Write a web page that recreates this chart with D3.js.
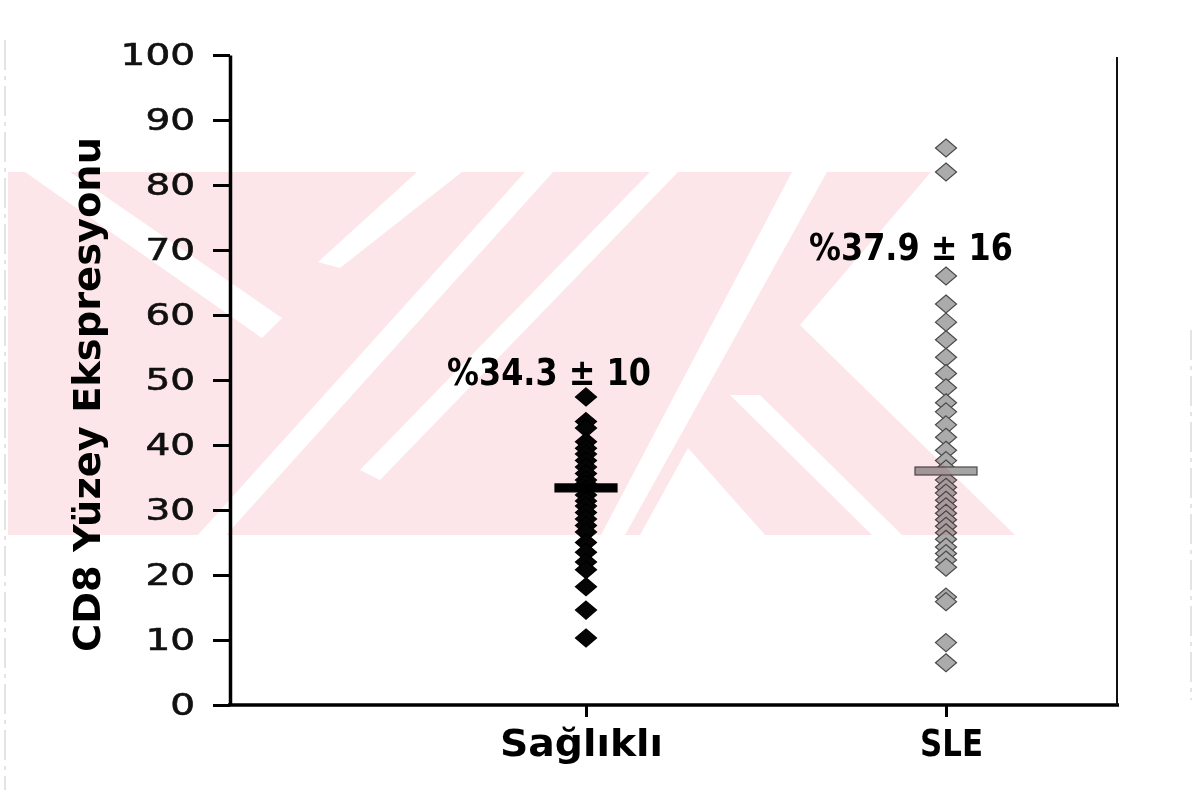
<!DOCTYPE html>
<html>
<head>
<meta charset="utf-8">
<script src="https://cdn.jsdelivr.net/npm/d3@7"></script>
<style>
  html, body { margin: 0; padding: 0; background: #fff; }
  svg { display: block; }
</style>
</head>
<body>
<script>
// CD8 surface expression (%) per group
const categories = ["Sağlıklı", "SLE"];

const healthyValues = [
  47.4, 43.6, 42.6, 40.5, 39.5, 38.6, 37.6, 36.6, 35.6, 34.6, 34.0, 33.2,
  32.3, 31.4, 30.6, 29.6, 28.6, 27.6, 26.6, 25.0, 23.5, 22.0, 20.8, 18.2,
  14.6, 10.3
];

const sleValues = [
  85.7, 82.0, 66.0, 61.7, 58.9, 56.2, 53.5, 51.0, 48.8, 46.5, 45.1, 43.1,
  41.2, 39.2, 37.6, 36.3, 34.6, 33.5, 32.6, 31.5, 30.5, 29.5, 28.5, 27.5,
  26.5, 25.5, 24.3, 23.3, 22.3, 21.2, 16.6, 15.9, 9.6, 6.5
];

// horizontal centre marks drawn across each column
const centerMarks = [33.4, 36.0];

// mean ± SD summaries
const summaryLabels = ["%34.3 ± 10", "%37.9 ± 16"];

const yTicks = [0, 10, 20, 30, 40, 50, 60, 70, 80, 90, 100];
const yTitle = "CD8 Yüzey Ekspresyonu";

// ---- layout ----
const W = 1200, H = 803;
const plot = { left: 230, right: 1117, top: 55, bottom: 705 };

const svg = d3.select("body").append("svg")
  .attr("width", W).attr("height", H);

svg.append("rect").attr("width", W).attr("height", H).attr("fill", "#fff");

// faint scanned page edges
[[5, 40, 790], [1191, 330, 700]].forEach(([lx, y1, y2]) => {
  svg.append("line")
    .attr("x1", lx).attr("x2", lx).attr("y1", y1).attr("y2", y2)
    .attr("stroke", "#c8c8c8").attr("stroke-width", 1)
    .attr("stroke-dasharray", "30 6 4 6");
});

const y = d3.scaleLinear().domain([0, 100]).range([plot.bottom, plot.top]);
const x = d3.scalePoint().domain(categories).range([586, 946]);

// wide diamond marker
const wideDiamond = {
  draw(ctx, size) {
    const h = Math.sqrt(size / 2.33);
    const w = h * 1.17;
    ctx.moveTo(0, -h / 2);
    ctx.lineTo(w / 2, 0);
    ctx.lineTo(0, h / 2);
    ctx.lineTo(-w / 2, 0);
    ctx.closePath();
  }
};
const diamond = d3.symbol().type(wideDiamond).size(18 * 18 * 2.33);

// ---- y axis ----
const yAxisG = svg.append("g")
  .attr("transform", `translate(${plot.left},0)`)
  .call(d3.axisLeft(y).tickValues(yTicks).tickSize(17).tickSizeOuter(0).tickPadding(18));

yAxisG.select(".domain").attr("stroke", "#000").attr("stroke-width", 3.5);
yAxisG.selectAll(".tick line").attr("stroke", "#000").attr("stroke-width", 3);
const tickStretch = 1.3;
yAxisG.selectAll(".tick text")
  .attr("font-family", "'DejaVu Sans', Verdana, sans-serif")
  .attr("font-size", 30)
  .attr("fill", "#111")
  .attr("stroke", "#111")
  .attr("stroke-width", 0.6)
  .attr("x", -35 / tickStretch)
  .attr("transform", `scale(${tickStretch},1)`);

// ---- x axis ----
svg.append("line")
  .attr("x1", plot.left - 2).attr("x2", plot.right + 2)
  .attr("y1", plot.bottom).attr("y2", plot.bottom)
  .attr("stroke", "#000").attr("stroke-width", 3.5);

const xAxisG = svg.append("g")
  .attr("transform", `translate(0,${plot.bottom})`)
  .call(d3.axisBottom(x).tickSize(12).tickSizeOuter(0).tickPadding(12));
xAxisG.select(".domain").remove();
xAxisG.selectAll(".tick line").attr("stroke", "#000").attr("stroke-width", 3);
xAxisG.selectAll(".tick text")
  .attr("font-family", "'DejaVu Sans', Verdana, sans-serif")
  .attr("font-weight", "bold")
  .attr("font-size", 38)
  .attr("fill", "#000")
  .attr("dx", d => d === "SLE" ? 5 : -5)
  .attr("textLength", d => d === "SLE" ? 63 : 163)
  .attr("lengthAdjust", "spacingAndGlyphs");

// right frame line
svg.append("line")
  .attr("x1", plot.right).attr("x2", plot.right)
  .attr("y1", plot.top + 2).attr("y2", plot.bottom)
  .attr("stroke", "#111").attr("stroke-width", 2);

// ---- y title ----
svg.append("text")
  .attr("transform", `translate(100,${(137 + 652) / 2}) rotate(-90)`)
  .attr("text-anchor", "middle")
  .attr("font-family", "'DejaVu Sans', Verdana, sans-serif")
  .attr("font-weight", "bold")
  .attr("font-size", 37)
  .attr("textLength", 515)
  .attr("lengthAdjust", "spacingAndGlyphs")
  .text(yTitle);

// ---- points ----
const series = [
  { cat: categories[0], values: healthyValues, fill: "#050505", stroke: "#000" },
  { cat: categories[1], values: sleValues, fill: "#ababab", stroke: "#4a4a4a" }
];

series.forEach(s => {
  svg.append("g").selectAll("path")
    .data(s.values)
    .join("path")
    .attr("d", diamond)
    .attr("transform", d => `translate(${x(s.cat)},${y(d)})`)
    .attr("fill", s.fill)
    .attr("stroke", s.stroke)
    .attr("stroke-width", 1.2);
});

// centre marks
svg.append("g").selectAll("rect")
  .data(centerMarks)
  .join("rect")
  .attr("x", (d, i) => x(categories[i]) - 31)
  .attr("y", d => y(d) - 4)
  .attr("width", 62)
  .attr("height", 8)
  .attr("fill", (d, i) => i === 0 ? "#000" : "#a5a5a5")
  .attr("stroke", (d, i) => i === 0 ? "#000" : "#4a4a4a")
  .attr("stroke-width", 1.2);

// summary labels
const labelAnchors = [
  { dx: -37, yVal: 49.2 },
  { dx: -35, yVal: 68.4 }
];
svg.append("g").selectAll("text")
  .data(summaryLabels)
  .join("text")
  .attr("x", (d, i) => x(categories[i]) + labelAnchors[i].dx)
  .attr("y", (d, i) => y(labelAnchors[i].yVal))
  .attr("text-anchor", "middle")
  .attr("font-family", "'DejaVu Sans', Verdana, sans-serif")
  .attr("font-weight", "bold")
  .attr("font-size", 37)
  .attr("textLength", 204)
  .attr("lengthAdjust", "spacingAndGlyphs")
  .attr("fill", "#000")
  .text(d => d);

// ---- background emblem (multiplied over the chart) ----
const emblem = svg.append("g").style("mix-blend-mode", "multiply");
const pink = "#fde6ea";
emblem.append("path")
  .attr("d", "M8,172 L931,172 L800,325 L1015,535 L8,535 Z")
  .attr("fill", pink);
const gaps = [
  "M25,172 L70,172 L282,318 L262,338 Z",
  "M417,172 L462,172 L340,268 L318,262 Z",
  "M525,172 L553,172 L226,535 L198,535 Z",
  "M650,172 L678,172 L380,480 L360,470 Z",
  "M792,172 L827,172 L625,535 L601,535 Z",
  "M640,535 L688,448 L765,535 Z",
  "M730,395 L760,395 L902,535 L872,535 Z"
];
emblem.selectAll("path.gap")
  .data(gaps)
  .join("path")
  .attr("class", "gap")
  .attr("d", d => d)
  .attr("fill", "#fff");
</script>
</body>
</html>
